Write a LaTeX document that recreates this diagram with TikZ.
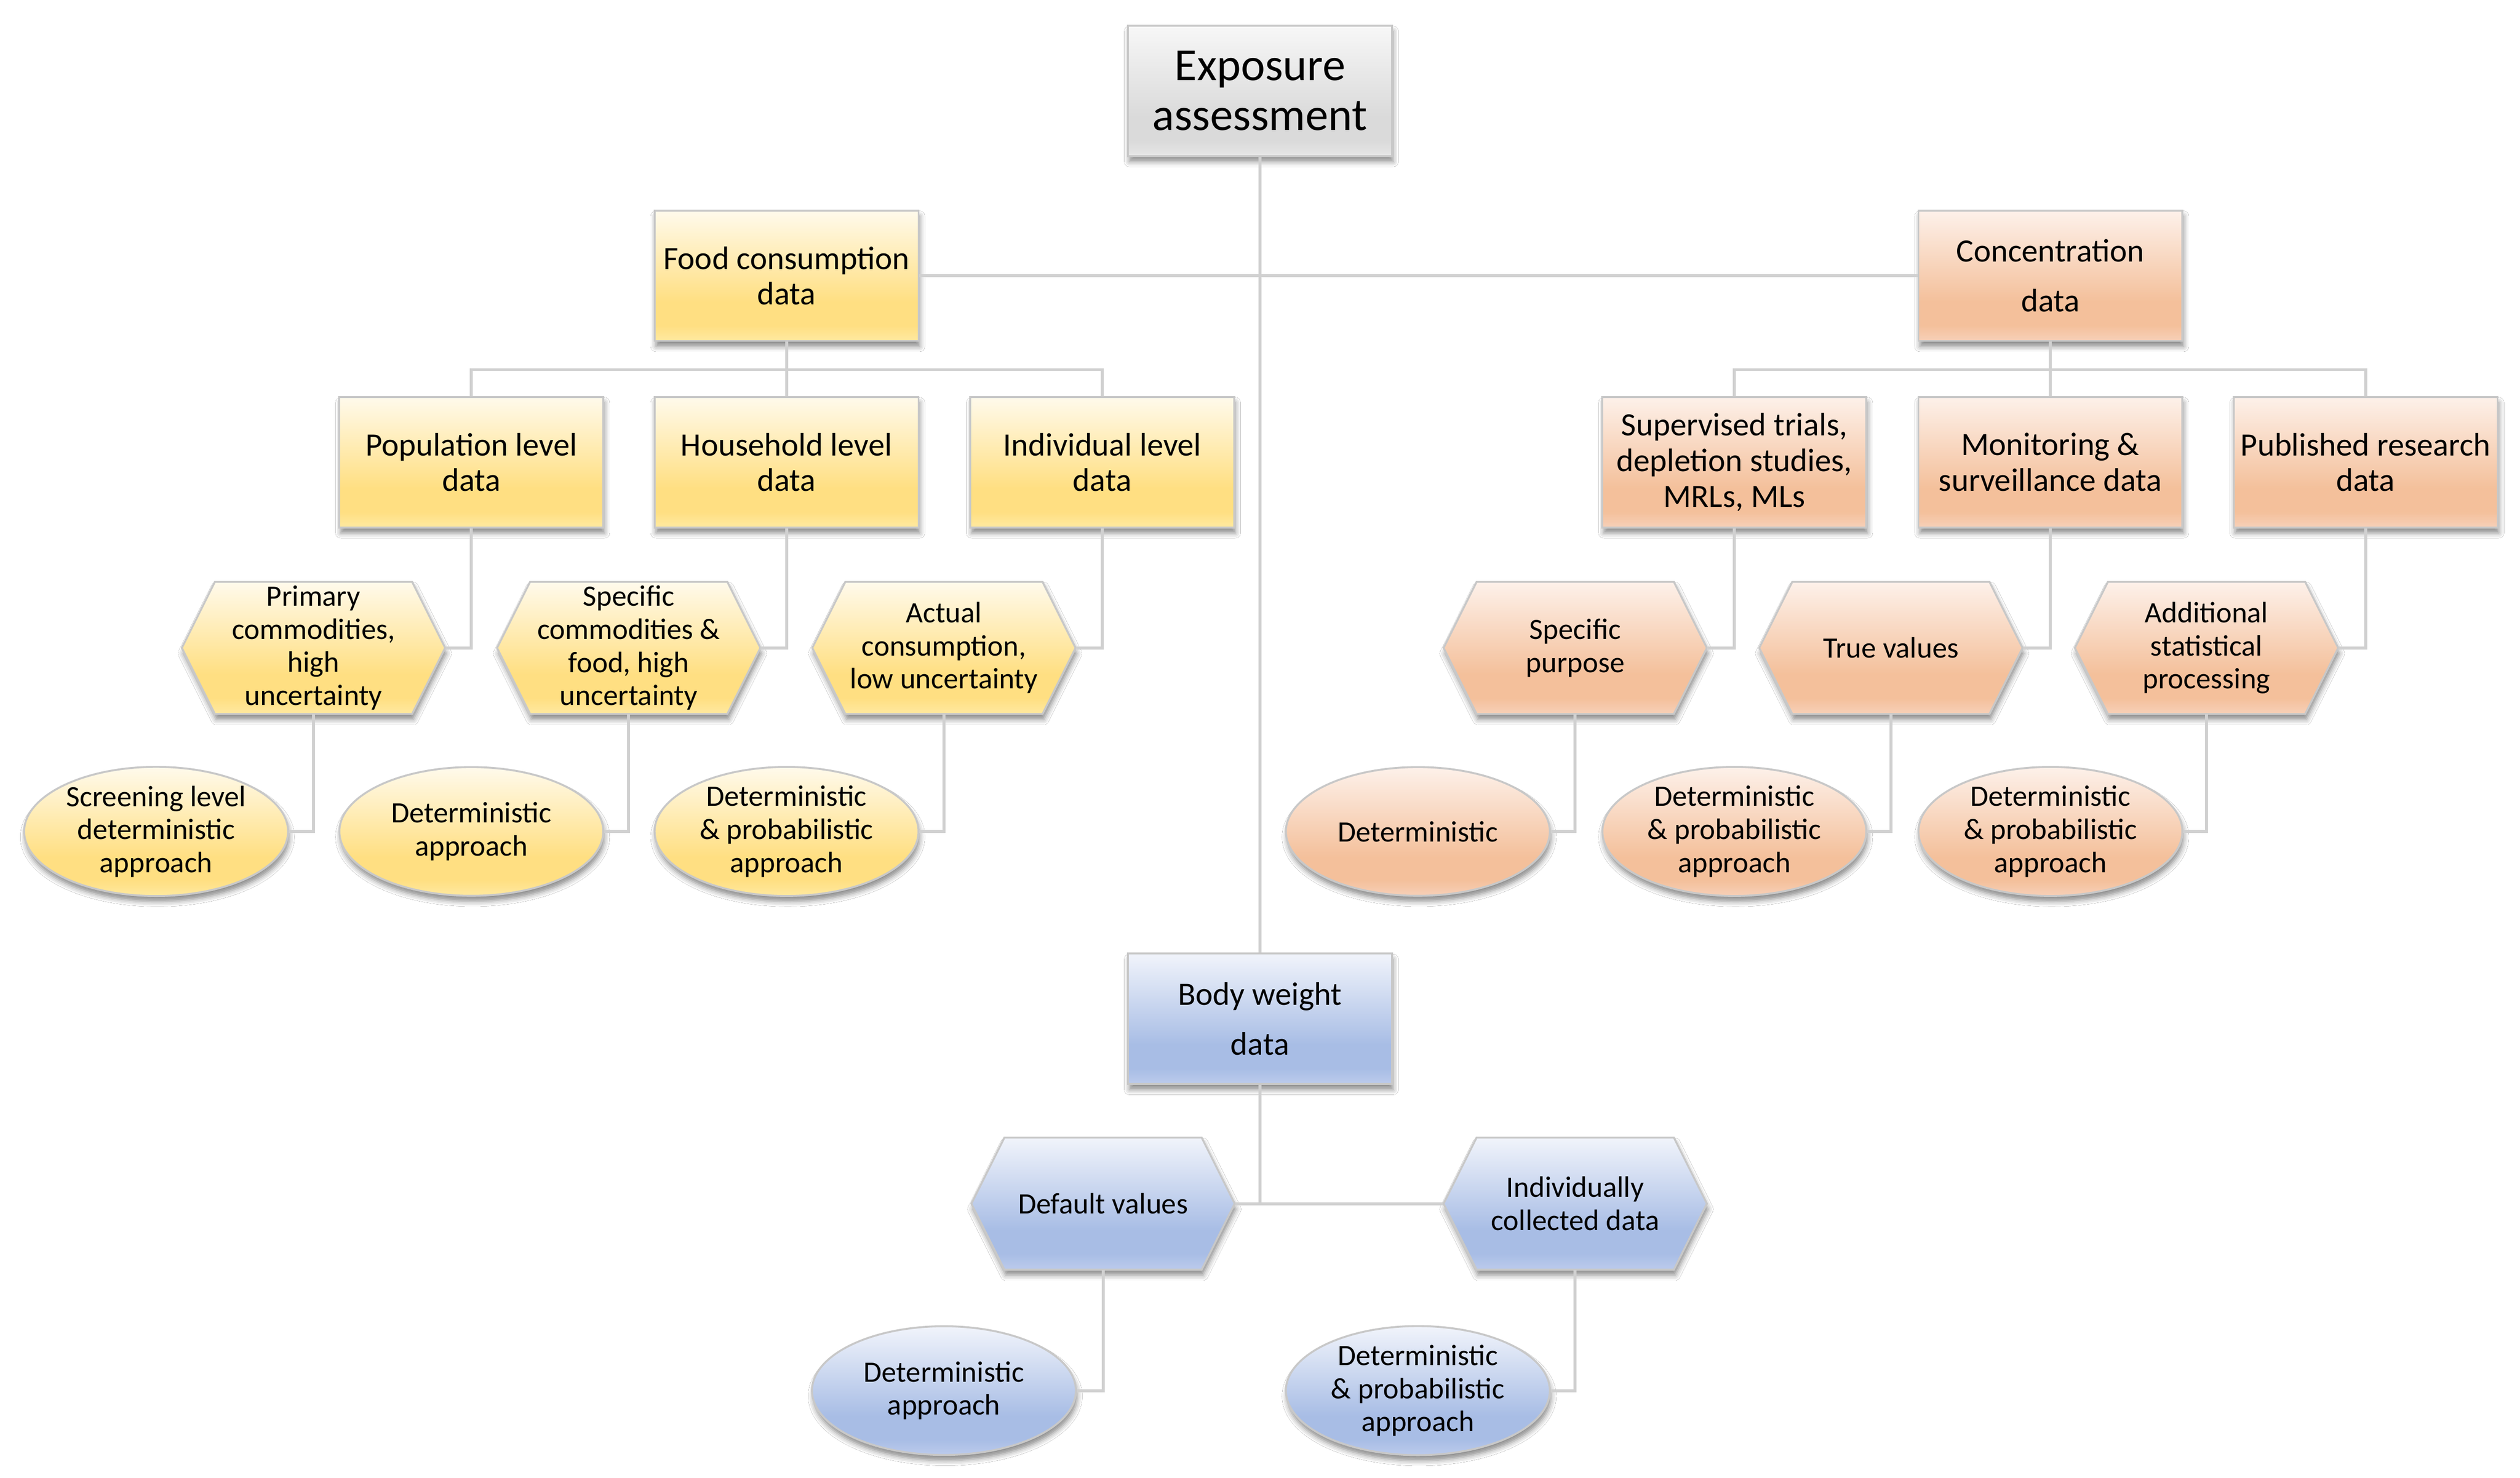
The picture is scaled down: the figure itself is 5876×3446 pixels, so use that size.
\documentclass[tikz,border=0pt]{standalone}
\usepackage{fontspec}
\setmainfont{Carlito}
\usetikzlibrary{shapes.geometric,shadows.blur}

\definecolor{gtop}{RGB}{247,247,247}
\definecolor{gmid}{RGB}{218,218,218}
\definecolor{gbot}{RGB}{230,230,230}
\definecolor{ytop}{RGB}{255,250,236}
\definecolor{ymid}{RGB}{255,223,130}
\definecolor{ybot}{RGB}{255,233,160}
\definecolor{otop}{RGB}{253,241,234}
\definecolor{omid}{RGB}{244,192,155}
\definecolor{obot}{RGB}{247,208,184}
\definecolor{btop}{RGB}{241,244,251}
\definecolor{bmid}{RGB}{168,189,229}
\definecolor{bbot}{RGB}{188,203,236}
\definecolor{edgegray}{RGB}{200,200,200}
\definecolor{linegray}{RGB}{208,208,208}

\pgfdeclareverticalshading{gshade}{100bp}{color(0bp)=(gbot); color(25bp)=(gbot); color(31bp)=(gmid); color(40bp)=(gmid); color(75bp)=(gtop); color(100bp)=(gtop)}
\pgfdeclareverticalshading{yshade}{100bp}{color(0bp)=(ybot); color(25bp)=(ybot); color(31bp)=(ymid); color(40bp)=(ymid); color(75bp)=(ytop); color(100bp)=(ytop)}
\pgfdeclareverticalshading{oshade}{100bp}{color(0bp)=(obot); color(25bp)=(obot); color(31bp)=(omid); color(40bp)=(omid); color(75bp)=(otop); color(100bp)=(otop)}
\pgfdeclareverticalshading{bshade}{100bp}{color(0bp)=(bbot); color(25bp)=(bbot); color(31bp)=(bmid); color(40bp)=(bmid); color(75bp)=(btop); color(100bp)=(btop)}

\newcommand\fTitle{\fontsize{30.4}{33}\selectfont}
\newcommand\fBox{\fontsize{21.6}{23.6}\selectfont}
\newcommand\fBoxWide{\fontsize{21.6}{33}\selectfont}
\newcommand\fSmall{\fontsize{19.6}{21.9}\selectfont}

% hexagon outline centred at (#1,#2), drawn with style #3
\newcommand\hexat[3]{\path[#3] (#1-307,#2) -- (#1-230,#2-154) -- (#1+230,#2-154) -- (#1+307,#2) -- (#1+230,#2+154) -- (#1-230,#2+154) -- cycle;}

\tikzset{
  conn/.style={draw=linegray, line width=0.07cm},
  shad/.style={blur shadow={shadow xshift=0.03cm, shadow yshift=-0.13cm, shadow blur radius=0.12cm, shadow opacity=45}},
  boxbase/.style={rectangle, minimum width=6.15cm, minimum height=3.04cm, inner sep=0pt, align=center,
    draw=edgegray, line width=0.045cm, shad, font=\fBox},
  gbox/.style={boxbase, shading=gshade},
  ybox/.style={boxbase, shading=yshade},
  obox/.style={boxbase, shading=oshade},
  bbox/.style={boxbase, shading=bshade},
  hexnode/.style={rectangle, minimum width=6.14cm, minimum height=3.08cm, inner sep=0pt, align=center, font=\fSmall},
  hexbase/.style={draw=edgegray, line width=0.045cm, shad, line join=miter},
  yhex/.style={hexbase, shading=yshade},
  ohex/.style={hexbase, shading=oshade},
  bhex/.style={hexbase, shading=bshade},
  ellbase/.style={ellipse, minimum width=6.15cm, minimum height=3.0cm, inner sep=0pt, align=center,
    draw=edgegray, line width=0.045cm, shad, font=\fSmall},
  yell/.style={ellbase, shading=yshade},
  oell/.style={ellbase, shading=oshade},
  bell/.style={ellbase, shading=bshade},
}

\begin{document}
\begin{tikzpicture}[x=0.01cm, y=-0.01cm]
\useasboundingbox (0,0) rectangle (5876,3446);
\fill[white] (0,0) rectangle (5876,3446);

% hexagon shapes
\hexat{731}{1511}{yhex}
\hexat{1466}{1511}{yhex}
\hexat{2201}{1511}{yhex}
\hexat{3673}{1511}{ohex}
\hexat{4409}{1511}{ohex}
\hexat{5145}{1511}{ohex}
\hexat{2572}{2807}{bhex}
\hexat{3673}{2807}{bhex}

% top level
\node[gbox, font=\fTitle] (ex) at (2938,212) {Exposure\\assessment};
\node[ybox] (fc) at (1834,643) {Food consumption\\data};
\node[obox, font=\fBoxWide] (cd) at (4781,643) {Concentration\\data};
\node[bbox, font=\fBoxWide] (bw) at (2938,2376) {Body weight\\data};

% level 2
\node[ybox] (pop) at (1099,1078) {Population level\\data};
\node[ybox] (hh)  at (1834,1078) {Household level\\data};
\node[ybox] (ind) at (2570,1078) {Individual level\\data};
\node[obox] (sup) at (4044,1078) {Supervised trials,\\depletion studies,\\MRLs, MLs};
\node[obox] (mon) at (4781,1078) {Monitoring \&\\surveillance data};
\node[obox] (pub) at (5516,1078) {Published research\\data};

% hexagon text nodes
\node[hexnode] (h1) at (731,1511) {Primary\\commodities,\\high\\uncertainty};
\node[hexnode] (h2) at (1466,1511) {Specific\\commodities \&\\food, high\\uncertainty};
\node[hexnode] (h3) at (2201,1511) {Actual\\consumption,\\low uncertainty};
\node[hexnode] (h4) at (3673,1511) {Specific\\purpose};
\node[hexnode] (h5) at (4409,1511) {True values};
\node[hexnode] (h6) at (5145,1511) {Additional\\statistical\\processing};
\node[hexnode] (h7) at (2572,2807) {Default values};
\node[hexnode] (h8) at (3673,2807) {Individually\\collected data};

% ellipses
\node[yell] (e1) at (364,1939) {Screening level\\deterministic\\approach};
\node[yell] (e2) at (1099,1939) {Deterministic\\approach};
\node[yell] (e3) at (1834,1939) {Deterministic\\\& probabilistic\\approach};
\node[oell] (e4) at (3306,1939) {Deterministic};
\node[oell] (e5) at (4044,1939) {Deterministic\\\& probabilistic\\approach};
\node[oell] (e6) at (4781,1939) {Deterministic\\\& probabilistic\\approach};
\node[bell] (e7) at (2201,3243) {Deterministic\\approach};
\node[bell] (e8) at (3306,3243) {Deterministic\\\& probabilistic\\approach};

% bus coordinates
\coordinate (fbus) at (1834,862);
\coordinate (cbus) at (4781,862);
\coordinate (bbus) at (2938,2807);

% connectors
\draw[conn] (ex.south) -- (bw.north);
\draw[conn] (fc.east) -- (cd.west);
\draw[conn] (fc.south) -- (hh.north);
\draw[conn] (pop.north) |- (fbus) -| (ind.north);
\draw[conn] (cd.south) -- (mon.north);
\draw[conn] (sup.north) |- (cbus) -| (pub.north);
\draw[conn] (pop.south) |- (h1.east);
\draw[conn] (hh.south) |- (h2.east);
\draw[conn] (ind.south) |- (h3.east);
\draw[conn] (sup.south) |- (h4.east);
\draw[conn] (mon.south) |- (h5.east);
\draw[conn] (pub.south) |- (h6.east);
\draw[conn] (h1.south) |- (e1.east);
\draw[conn] (h2.south) |- (e2.east);
\draw[conn] (h3.south) |- (e3.east);
\draw[conn] (h4.south) |- (e4.east);
\draw[conn] (h5.south) |- (e5.east);
\draw[conn] (h6.south) |- (e6.east);
\draw[conn] (bw.south) -- (bbus);
\draw[conn] (h7.east) -- (h8.west);
\draw[conn] (h7.south) |- (e7.east);
\draw[conn] (h8.south) |- (e8.east);
\end{tikzpicture}
\end{document}
